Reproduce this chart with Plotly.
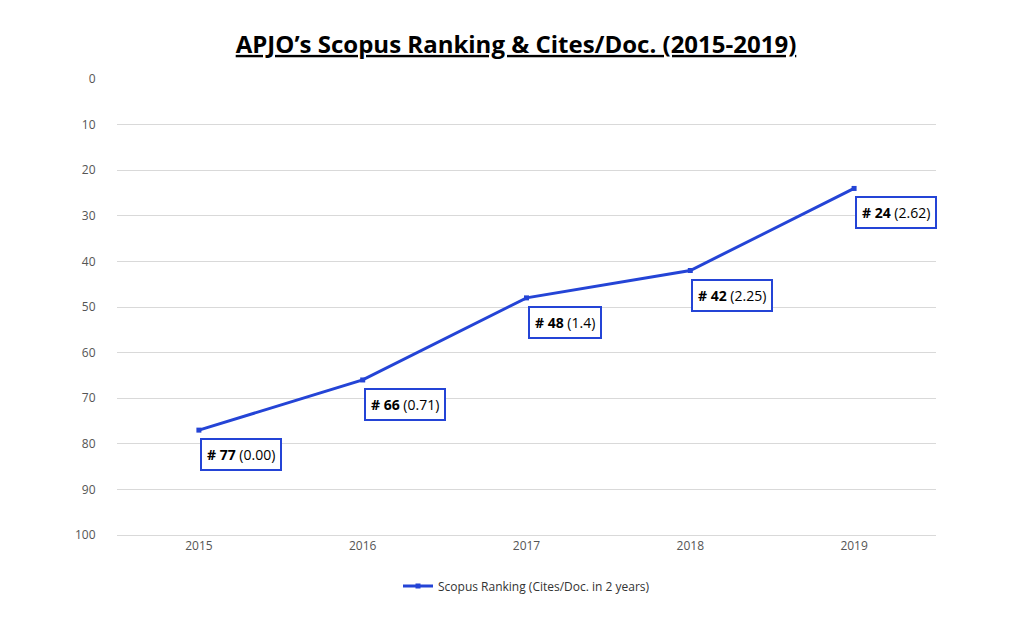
import plotly.graph_objects as go

years = ["2015", "2016", "2017", "2018", "2019"]
ranks = [77, 66, 48, 42, 24]
cites = ["0.00", "0.71", "1.4", "2.25", "2.62"]
yticks = [0, 10, 20, 30, 40, 50, 60, 70, 80, 90, 100]

xpos = list(range(len(years)))
blue = "#2444D6"
fig = go.Figure()
fig.add_trace(go.Scatter(x=xpos, y=ranks, mode="lines+markers",
                         line=dict(color=blue, width=3),
                         marker=dict(symbol="square", size=5, color=blue),
                         name="Scopus Ranking (Cites/Doc. in 2 years)"))
for xi, r, c in zip(xpos, ranks, cites):
    fig.add_annotation(x=xi, y=r, text=f"<b># {r}</b> ({c})", showarrow=False,
                       xanchor="left", yanchor="top", xshift=1, yshift=-8,
                       bordercolor=blue, borderwidth=2, borderpad=5,
                       bgcolor="white", font=dict(size=14, color="black"))
fig.update_layout(
    width=1016, height=624, plot_bgcolor="white", paper_bgcolor="white",
    font=dict(family="Open Sans, Liberation Sans, sans-serif", color="#555"),
    title=dict(text="<b><u>APJO’s Scopus Ranking & Cites/Doc. (2015-2019)</u></b>",
               x=0.5, xanchor="center", y=0.955, font=dict(size=24, color="black")),
    margin=dict(l=109, r=88, t=71, b=97),
    xaxis=dict(range=[-0.5, 4.5], tickvals=xpos, ticktext=years, showgrid=False,
               zeroline=False, showline=True, linecolor="#d9d9d9",
               tickfont=dict(size=12), ticks=""),
    yaxis=dict(range=[100, 0], tickvals=yticks, gridcolor="#d9d9d9", zeroline=False,
               tickfont=dict(size=12), ticks="outside", ticklen=18, tickcolor="white"),
    showlegend=True,
    legend=dict(orientation="h", x=0.5, xanchor="center", y=-0.08, yanchor="top",
                font=dict(size=12, color="#333")),
)
fig.write_html("out.html")
